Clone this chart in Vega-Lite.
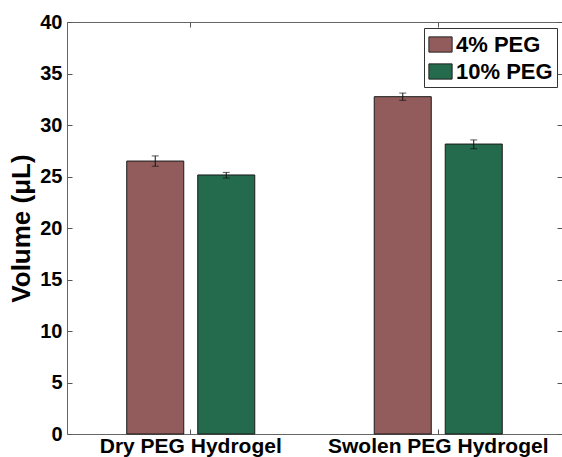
{
  "$schema": "https://vega.github.io/schema/vega-lite/v6.json",
  "autosize": {"type": "none"},
  "padding": {"left": 67, "top": 22, "right": 0, "bottom": 23},
  "width": 495,
  "height": 412,
  "background": "white",
  "data": {
    "values": [
      {"state": "Dry PEG Hydrogel", "group": "4% PEG", "volume": 26.5, "lo": 26.0, "hi": 27.0},
      {"state": "Dry PEG Hydrogel", "group": "10% PEG", "volume": 25.15, "lo": 24.85, "hi": 25.4},
      {"state": "Swolen PEG Hydrogel", "group": "4% PEG", "volume": 32.75, "lo": 32.4, "hi": 33.1},
      {"state": "Swolen PEG Hydrogel", "group": "10% PEG", "volume": 28.15, "lo": 27.7, "hi": 28.55}
    ]
  },
  "encoding": {
    "x": {"field": "state", "type": "nominal", "sort": null,
      "scale": {"paddingInner": 0.4828, "paddingOuter": 0.2414}},
    "xOffset": {"field": "group", "type": "nominal", "sort": ["4% PEG", "10% PEG"],
      "scale": {"paddingInner": 0.197, "paddingOuter": 0}}
  },
  "layer": [
    {
      "mark": {"type": "bar", "stroke": "#1a1a1a", "strokeWidth": 1},
      "encoding": {
        "x": {"field": "state", "type": "nominal", "sort": null,
          "axis": {"orient": "bottom", "title": null, "labelAngle": 0, "domain": false, "labelLimit": 0,
            "tickSize": -5, "tickColor": "#555", "labelPadding": 6,
            "labelFont": "Liberation Sans", "labelFontWeight": "bold", "labelFontSize": 21, "labelColor": "black"}},
        "y": {"field": "volume", "type": "quantitative",
          "scale": {"domain": [0, 40], "nice": false},
          "axis": {"orient": "left", "title": "Volume (μL)", "values": [0,5,10,15,20,25,30,35,40],
            "grid": false, "domain": false, "tickSize": -5, "tickColor": "#555", "labelPadding": 10,
            "labelFont": "Liberation Sans", "labelFontWeight": "bold", "labelFontSize": 20, "labelColor": "black",
            "titleFont": "Liberation Sans", "titleFontWeight": "bold", "titleFontSize": 26, "titleColor": "black",
            "titlePadding": 5}},
        "color": {"field": "group", "type": "nominal",
          "scale": {"domain": ["4% PEG", "10% PEG"], "range": ["#935c5c", "#246a4c"]},
          "legend": {"title": null, "orient": "none", "legendX": 357, "legendY": 6,
            "fillColor": "white", "strokeColor": "#333", "padding": 4, "rowPadding": 3,
            "symbolType": "M-1,-0.656H1V0.656H-1Z", "symbolSize": 540, "symbolStrokeColor": "#222",
            "symbolStrokeWidth": 1, "symbolOpacity": 1, "labelOffset": 3,
            "labelFont": "Liberation Sans", "labelFontWeight": "bold", "labelFontSize": 22, "labelColor": "black"}}
      }
    },
    {
      "mark": {"type": "rule", "color": "#111", "strokeWidth": 1},
      "encoding": {
        "x": {"field": "state", "type": "nominal", "sort": null,
          "axis": {"orient": "top", "title": null, "labels": false, "domain": false, "tickSize": -5, "tickColor": "#555"}},
        "y": {"field": "lo", "type": "quantitative",
          "axis": {"orient": "right", "title": null, "labels": false, "domain": false, "grid": false,
            "values": [0,5,10,15,20,25,30,35,40], "tickSize": -5, "tickColor": "#555"}},
        "y2": {"field": "hi"}
      }
    },
    {
      "mark": {"type": "tick", "color": "#111", "size": 7, "thickness": 1},
      "encoding": {
        "x": {"field": "state", "type": "nominal", "sort": null, "axis": null},
        "y": {"field": "lo", "type": "quantitative", "axis": null}
      }
    },
    {
      "mark": {"type": "tick", "color": "#111", "size": 7, "thickness": 1},
      "encoding": {
        "x": {"field": "state", "type": "nominal", "sort": null, "axis": null},
        "y": {"field": "hi", "type": "quantitative", "axis": null}
      }
    }
  ],
  "resolve": {"axis": {"x": "independent", "y": "independent"}},
  "config": {
    "view": {"stroke": "#666", "strokeWidth": 1}
  }
}
